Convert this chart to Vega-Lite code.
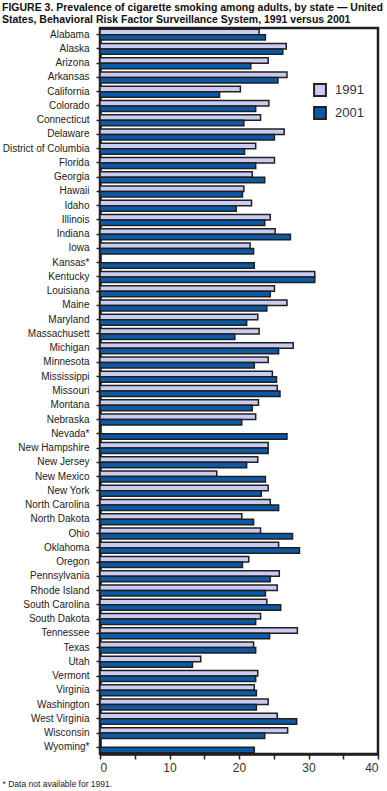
{
  "$schema": "https://vega.github.io/schema/vega-lite/v6.json",
  "width": 278,
  "height": 726,
  "autosize": "none",
  "padding": {"left": 100, "top": 28, "right": 9, "bottom": 37},
  "background": "white",
  "config": {
    "font": "Liberation Sans",
    "view": {"stroke": "#231F20", "strokeWidth": 2.5}
  },
  "title": {
    "text": ["FIGURE 3. Prevalence of cigarette smoking among adults, by state — United", "States, Behavioral Risk Factor Surveillance System, 1991 versus 2001"],
    "anchor": "start",
    "frame": "group",
    "dx": -98,
    "offset": 3,
    "fontSize": 10.5,
    "fontWeight": "bold",
    "color": "#111111",
    "lineHeight": 11.5
  },
  "data": {
    "values": [
      {"state": "Alabama", "year": "1991", "pct": 22.9},
      {"state": "Alabama", "year": "2001", "pct": 23.8},
      {"state": "Alaska", "year": "1991", "pct": 26.8},
      {"state": "Alaska", "year": "2001", "pct": 26.3},
      {"state": "Arizona", "year": "1991", "pct": 24.2},
      {"state": "Arizona", "year": "2001", "pct": 21.7},
      {"state": "Arkansas", "year": "1991", "pct": 26.9},
      {"state": "Arkansas", "year": "2001", "pct": 25.6},
      {"state": "California", "year": "1991", "pct": 20.2},
      {"state": "California", "year": "2001", "pct": 17.2},
      {"state": "Colorado", "year": "1991", "pct": 24.3},
      {"state": "Colorado", "year": "2001", "pct": 22.4},
      {"state": "Connecticut", "year": "1991", "pct": 23.1},
      {"state": "Connecticut", "year": "2001", "pct": 20.7},
      {"state": "Delaware", "year": "1991", "pct": 26.5},
      {"state": "Delaware", "year": "2001", "pct": 25.1},
      {"state": "District of Columbia", "year": "1991", "pct": 22.4},
      {"state": "District of Columbia", "year": "2001", "pct": 20.8},
      {"state": "Florida", "year": "1991", "pct": 25.1},
      {"state": "Florida", "year": "2001", "pct": 22.4},
      {"state": "Georgia", "year": "1991", "pct": 21.9},
      {"state": "Georgia", "year": "2001", "pct": 23.7},
      {"state": "Hawaii", "year": "1991", "pct": 20.7},
      {"state": "Hawaii", "year": "2001", "pct": 20.5},
      {"state": "Idaho", "year": "1991", "pct": 21.8},
      {"state": "Idaho", "year": "2001", "pct": 19.6},
      {"state": "Illinois", "year": "1991", "pct": 24.5},
      {"state": "Illinois", "year": "2001", "pct": 23.7},
      {"state": "Indiana", "year": "1991", "pct": 25.2},
      {"state": "Indiana", "year": "2001", "pct": 27.4},
      {"state": "Iowa", "year": "1991", "pct": 21.6},
      {"state": "Iowa", "year": "2001", "pct": 22.1},
      {"state": "Kansas*", "year": "2001", "pct": 22.2},
      {"state": "Kentucky", "year": "1991", "pct": 30.9},
      {"state": "Kentucky", "year": "2001", "pct": 30.9},
      {"state": "Louisiana", "year": "1991", "pct": 25.1},
      {"state": "Louisiana", "year": "2001", "pct": 24.5},
      {"state": "Maine", "year": "1991", "pct": 26.9},
      {"state": "Maine", "year": "2001", "pct": 24.0},
      {"state": "Maryland", "year": "1991", "pct": 22.7},
      {"state": "Maryland", "year": "2001", "pct": 21.1},
      {"state": "Massachusett", "year": "1991", "pct": 22.9},
      {"state": "Massachusett", "year": "2001", "pct": 19.4},
      {"state": "Michigan", "year": "1991", "pct": 27.8},
      {"state": "Michigan", "year": "2001", "pct": 25.7},
      {"state": "Minnesota", "year": "1991", "pct": 24.2},
      {"state": "Minnesota", "year": "2001", "pct": 22.2},
      {"state": "Mississippi", "year": "1991", "pct": 24.8},
      {"state": "Mississippi", "year": "2001", "pct": 25.4},
      {"state": "Missouri", "year": "1991", "pct": 25.5},
      {"state": "Missouri", "year": "2001", "pct": 25.9},
      {"state": "Montana", "year": "1991", "pct": 22.8},
      {"state": "Montana", "year": "2001", "pct": 21.9},
      {"state": "Nebraska", "year": "1991", "pct": 22.4},
      {"state": "Nebraska", "year": "2001", "pct": 20.4},
      {"state": "Nevada*", "year": "2001", "pct": 26.9},
      {"state": "New Hampshire", "year": "1991", "pct": 24.2},
      {"state": "New Hampshire", "year": "2001", "pct": 24.2},
      {"state": "New Jersey", "year": "1991", "pct": 22.7},
      {"state": "New Jersey", "year": "2001", "pct": 21.1},
      {"state": "New Mexico", "year": "1991", "pct": 16.8},
      {"state": "New Mexico", "year": "2001", "pct": 23.8},
      {"state": "New York", "year": "1991", "pct": 24.2},
      {"state": "New York", "year": "2001", "pct": 23.2},
      {"state": "North Carolina", "year": "1991", "pct": 24.5},
      {"state": "North Carolina", "year": "2001", "pct": 25.7},
      {"state": "North Dakota", "year": "1991", "pct": 20.4},
      {"state": "North Dakota", "year": "2001", "pct": 22.1},
      {"state": "Ohio", "year": "1991", "pct": 23.1},
      {"state": "Ohio", "year": "2001", "pct": 27.7},
      {"state": "Oklahoma", "year": "1991", "pct": 25.7},
      {"state": "Oklahoma", "year": "2001", "pct": 28.7},
      {"state": "Oregon", "year": "1991", "pct": 21.4},
      {"state": "Oregon", "year": "2001", "pct": 20.5},
      {"state": "Pennsylvania", "year": "1991", "pct": 25.8},
      {"state": "Pennsylvania", "year": "2001", "pct": 24.5},
      {"state": "Rhode Island", "year": "1991", "pct": 25.5},
      {"state": "Rhode Island", "year": "2001", "pct": 23.8},
      {"state": "South Carolina", "year": "1991", "pct": 24.0},
      {"state": "South Carolina", "year": "2001", "pct": 26.0},
      {"state": "South Dakota", "year": "1991", "pct": 23.1},
      {"state": "South Dakota", "year": "2001", "pct": 22.4},
      {"state": "Tennessee", "year": "1991", "pct": 28.4},
      {"state": "Tennessee", "year": "2001", "pct": 24.4},
      {"state": "Texas", "year": "1991", "pct": 22.1},
      {"state": "Texas", "year": "2001", "pct": 22.4},
      {"state": "Utah", "year": "1991", "pct": 14.5},
      {"state": "Utah", "year": "2001", "pct": 13.3},
      {"state": "Vermont", "year": "1991", "pct": 22.7},
      {"state": "Vermont", "year": "2001", "pct": 22.4},
      {"state": "Virginia", "year": "1991", "pct": 22.2},
      {"state": "Virginia", "year": "2001", "pct": 22.5},
      {"state": "Washington", "year": "1991", "pct": 24.2},
      {"state": "Washington", "year": "2001", "pct": 22.5},
      {"state": "West Virginia", "year": "1991", "pct": 25.5},
      {"state": "West Virginia", "year": "2001", "pct": 28.3},
      {"state": "Wisconsin", "year": "1991", "pct": 27.0},
      {"state": "Wisconsin", "year": "2001", "pct": 23.7},
      {"state": "Wyoming*", "year": "2001", "pct": 22.2}
    ]
  },
  "mark": {"type": "bar", "stroke": "#231F20", "strokeWidth": 1.5, "cornerRadius": 0},
  "encoding": {
    "y": {
      "field": "state",
      "type": "nominal",
      "sort": null,
      "scale": {"paddingInner": 0.23, "paddingOuter": 0.08},
      "axis": {
        "title": null,
        "domainColor": "#231F20",
        "domainWidth": 2.5,
        "tickColor": "#231F20",
        "tickSize": 4,
        "tickWidth": 1.5,
        "labelFontSize": 10,
        "labelColor": "#222222",
        "labelPadding": 7
      }
    },
    "yOffset": {
      "field": "year",
      "type": "nominal",
      "scale": {"domain": ["1991", "2001"], "paddingInner": 0, "paddingOuter": 0}
    },
    "x": {
      "field": "pct",
      "type": "quantitative",
      "scale": {"domain": [0, 40], "nice": false},
      "axis": {
        "values": [0, 5, 10, 15, 20, 25, 30, 35, 40],
        "labelExpr": "datum.value % 10 === 0 ? datum.label : ''",
        "grid": false,
        "domainColor": "#231F20",
        "domainWidth": 2.5,
        "tickColor": "#231F20",
        "tickSize": 5,
        "tickWidth": 1.5,
        "labelFontSize": 12,
        "labelColor": "#333333",
        "labelPadding": 3,
        "title": "* Data not available for 1991.",
        "titleX": -98,
        "titleY": 25,
        "titleAnchor": "start",
        "titleAlign": "left",
        "titleBaseline": "top",
        "titleFontSize": 8.5,
        "titleFontWeight": "normal",
        "titleColor": "#222222"
      }
    },
    "fill": {
      "field": "year",
      "type": "nominal",
      "scale": {"domain": ["1991", "2001"], "range": ["#C8CCF0", "#0A5AA8"]},
      "legend": {
        "title": null,
        "orient": "none",
        "legendX": 213,
        "legendY": 55,
        "symbolType": "square",
        "symbolSize": 140,
        "symbolStrokeColor": "#231F20",
        "symbolStrokeWidth": 2,
        "labelFontSize": 13,
        "labelColor": "#333333",
        "labelOffset": 8,
        "rowPadding": 3
      }
    }
  }
}
